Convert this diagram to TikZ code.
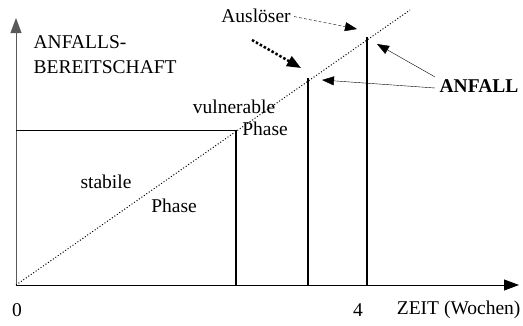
\documentclass[tikz,border=0pt]{standalone}
\usepackage{fontspec}
\setmainfont{Liberation Serif}
\usetikzlibrary{arrows.meta}

\begin{document}
\begin{tikzpicture}[x=1pt,y=-1pt,line width=1.2pt,
        lbl/.style={font=\fontsize{19.5}{22}\selectfont,inner sep=0pt},
        bigtip/.style={-{Triangle[length=14pt,width=11pt]}},
        thin arrow/.style={-{Triangle[length=12pt,width=9pt]},thin}]

    \useasboundingbox (0,0) rectangle (523,325);

    % axes
    \coordinate (O) at (16,285);
    \coordinate (Ytop) at (16,18);
    \coordinate (Xend) at (519,285);
    \draw[gray!70!black,line width=0.8pt,-{Triangle[length=15pt,width=11pt]}] (O) -- (Ytop);
    \draw[line width=0.8pt,-{Triangle[length=15pt,width=11pt]}] (O) -- (Xend);

    % threshold and phases
    \coordinate (D) at (410,10);
    \draw[line width=0.8pt] (16,130) -- (236,130);
    \draw[dotted,line width=1pt] (O) -- (D);
    \draw (236,130) -- (236,285);
    \draw (308,78) -- (308,285);
    \draw (367,37) -- (367,285);

    % labels
    \node[lbl,anchor=west] (ya) at (33,42) {ANFALLS-};
    \node[lbl,anchor=west] (yb) at (33,67) {BEREITSCHAFT};
    \node[lbl] (vul) at (234,107) {vulnerable};
    \node[lbl] (ph1) at (265,129) {Phase};
    \node[lbl] (stab) at (106,182) {stabile};
    \node[lbl] (ph2) at (174,206) {Phase};
    \node[lbl] (null) at (17,310) {0};
    \node[lbl] (vier) at (358,310) {4};
    \node[lbl,anchor=east] (zeit) at (521,310) {ZEIT (Wochen)};
    \node[lbl] (aus) at (256,16) {Ausl\"oser};
    \node[lbl,font=\fontsize{19.5}{22}\selectfont\bfseries] (anf) at (479,86) {ANFALL};

    % connectors
    \coordinate (a1) at (357,29);
    \coordinate (a2) at (301,68);
    \coordinate (a3) at (377,44);
    \coordinate (a4) at (322,80);
    \draw[thin arrow,densely dashed,shorten <=3pt] (aus.east) -- (a1);
    \draw[bigtip,dotted,line width=2.5pt] (252,40) -- (a2);
    \draw[thin arrow] (anf.north west) ++(-4,-2) -- (a3);
    \draw[thin arrow] (anf.west) ++(-4,2) -- (a4);

\end{tikzpicture}
\end{document}
